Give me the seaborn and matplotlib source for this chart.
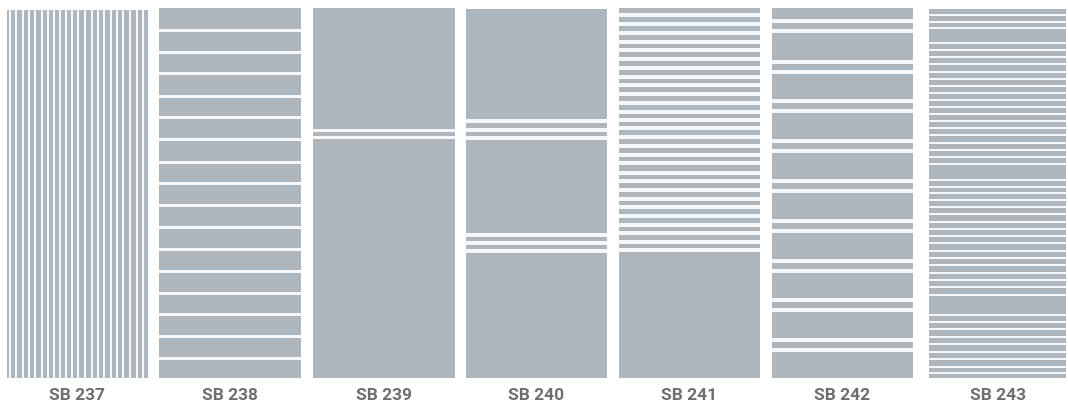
import numpy as np
import matplotlib
matplotlib.use("Agg")
import matplotlib.pyplot as plt
import seaborn as sns

# pattern names
labels = ["SB 237", "SB 238", "SB 239", "SB 240", "SB 241", "SB 242", "SB 243"]

# stripe positions (distance from panel top / left, px)
sb237_x = [3, 9, 16, 22, 28, 35, 41, 47, 53, 59, 65, 71, 78, 85, 91, 97, 104, 110, 116, 123, 130, 136]
sb238_y = [22, 44, 65, 88, 109, 131, 154, 175, 197, 219, 241, 263, 285, 306, 328, 350]
sb239_y = [122, 129]
sb240_y = [112, 121, 129, 226, 234, 242]
sb241_y = [7, 16, 25, 34, 42, 51, 60, 69, 77, 86, 95, 104, 112, 120, 129, 138, 147, 155, 165, 173,
           182, 191, 199, 208, 217, 225, 234, 242]
sb242_y = [13, 23, 54, 64, 93, 103, 133, 143, 173, 183, 213, 223, 253, 263, 292, 302, 332, 342]
sb243_y = [6, 13, 19, 34, 41, 48, 55, 63, 70, 77, 84, 91, 98, 105, 112, 119, 126, 134, 141, 148, 155,
           171, 178, 184, 191, 198, 205, 213, 220, 227, 234, 242, 249, 256, 264, 271, 278, 286, 306,
           313, 320, 328, 335, 343, 350, 358, 364]

stripes = [sb237_x, sb238_y, sb239_y, sb240_y, sb241_y, sb242_y, sb243_y]
vertical = [True, False, False, False, False, False, False]
thickness = [2.2, 3, 3, 3.5, 4, 4.5, 2.2]

# panel boxes in pixels (left, top, right, bottom)
boxes = [(7, 10, 148, 378), (159, 8, 301, 378), (313, 8, 455, 378), (466, 9, 607, 378),
         (619, 8, 760, 378), (772, 8, 913, 378), (929, 9, 1066, 378)]

W, H = 1068, 403
glass = "#aeb6bd"
stripe_col = "#f5f7f8"

sns.set_theme(style="white")
plt.rcParams['font.family'] = ['Roboto', 'DejaVu Sans']

fig = plt.figure(figsize=(W / 100, H / 100), dpi=100)
fig.patch.set_facecolor("white")

for name, pos, vert, th, (l, t, r, b) in zip(labels, stripes, vertical, thickness, boxes):
    ax = fig.add_axes([l / W, 1 - b / H, (r - l) / W, (b - t) / H])
    pw, ph = r - l, b - t
    ax.set_xlim(0, pw)
    ax.set_ylim(ph, 0)
    ax.set_facecolor(glass)
    for p in pos:
        if vert:
            ax.axvspan(p - th / 2, p + th / 2, color=stripe_col, lw=0)
        else:
            ax.axhspan(p - th / 2, p + th / 2, color=stripe_col, lw=0)
    ax.set_xticks([])
    ax.set_yticks([])
    sns.despine(ax=ax, left=True, bottom=True)
    ax.set_xlabel(name, fontsize=12.5, fontweight="bold", color="#6e6e6e", labelpad=7)

fig.savefig("out.png", dpi=100)
